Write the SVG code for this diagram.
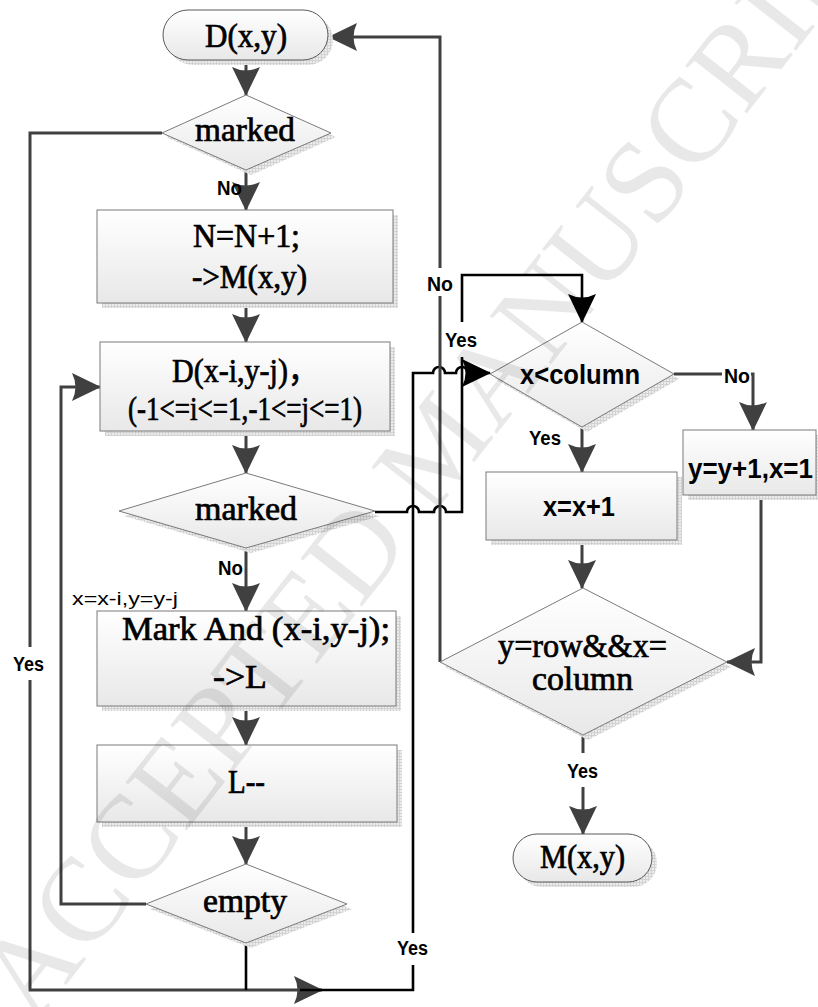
<svg xmlns="http://www.w3.org/2000/svg" width="818" height="1007" viewBox="0 0 818 1007">
  <defs>
    <linearGradient id="fillGrad" x1="0" y1="0" x2="0" y2="1">
      <stop offset="0" stop-color="#ffffff"/>
      <stop offset="1" stop-color="#e8e8e8"/>
    </linearGradient>
    <pattern id="shadowGrid" width="3" height="3" patternUnits="userSpaceOnUse">
      <rect width="3" height="3" fill="#ececec"/>
      <path d="M0,0.5 H3 M0.5,0 V3" stroke="#d2d2d2" stroke-width="1"/>
    </pattern>
    <marker id="arrowGray" viewBox="-30 -15 32 30" markerWidth="32" markerHeight="30" refX="0" refY="0" orient="auto" markerUnits="userSpaceOnUse">
      <path d="M1,0 L-28,-14 Q-21,0 -28,14 Z" fill="#404040"/>
    </marker>
    <marker id="arrowBlack" viewBox="-30 -15 32 30" markerWidth="32" markerHeight="30" refX="0" refY="0" orient="auto" markerUnits="userSpaceOnUse">
      <path d="M1,0 L-28,-14 Q-21,0 -28,14 Z" fill="#000000"/>
    </marker>
  </defs>
  <style>
    .shape { fill: url(#fillGrad); stroke: #7a7a7a; stroke-width: 1; }
    .term { fill: url(#fillGrad); stroke: #5a5a5a; stroke-width: 1; }
    .shadow { fill: url(#shadowGrid); }
    .serif { font-family: "Liberation Serif", "Noto Sans CJK SC", serif; font-size: 33px; fill: #000; stroke: #000; stroke-width: 0.7; }
    .sans { font-family: "Liberation Sans", Arial, sans-serif; font-weight: bold; font-size: 27px; fill: #000; }
    .lbl { font-family: "Liberation Sans", Arial, sans-serif; font-weight: bold; font-size: 20px; fill: #000; }
    .gray { fill: none; stroke: #404040; stroke-width: 3; }
    .black { fill: none; stroke: #000000; stroke-width: 2.6; }
    .gap { fill: #ffffff; }
    .mark { font-family: "Liberation Serif", serif; font-size: 119px; fill: #000; fill-opacity: 0.09; }
  </style>

  <rect width="818" height="1007" fill="#ffffff"/>

  <!-- connectors -->
  <g id="connectors">
    <path class="gray" d="M246,60 V95" marker-end="url(#arrowGray)"/>
    <path class="gray" d="M246,170 V210" marker-end="url(#arrowGray)"/>
    <path class="gray" d="M246,303 V342" marker-end="url(#arrowGray)"/>
    <path class="gray" d="M246,431 V473" marker-end="url(#arrowGray)"/>
    <path class="gray" d="M246,548 V611" marker-end="url(#arrowGray)"/>
    <path class="gray" d="M246,706 V745" marker-end="url(#arrowGray)"/>
    <path class="gray" d="M246,822 V864" marker-end="url(#arrowGray)"/>
    <!-- empty: not empty, back to the neighbour scan -->
    <path class="gray" d="M146,904 H61 V387 H100" marker-end="url(#arrowGray)"/>
    <!-- marked (first test): Yes, down the left side -->
    <path class="gray" d="M162,133 H30 V990 H322" marker-end="url(#arrowGray)"/>
    <!-- empty: Yes -->
    <path class="black" d="M246,943 V990"/>
    <path class="black" d="M300,990 H413 V373 H433 A6,6 0 0 1 445,373 H456 A6,6 0 0 1 468,373 H490" marker-end="url(#arrowBlack)"/>
    <!-- marked (neighbour test): Yes -->
    <path class="black" d="M375,512 H407 A6,6 0 0 1 419,512 H434 A6,6 0 0 1 446,512 H462 V275 H582 V322" marker-end="url(#arrowBlack)"/>
    <!-- y=row&&x=column: No, back to D(x,y) -->
    <path class="gray" d="M440,662 V37 H329" marker-end="url(#arrowGray)"/>
    <!-- x<column: Yes / No -->
    <path class="gray" d="M582,427 V472" marker-end="url(#arrowGray)"/>
    <path class="gray" d="M674,374 H753 V430" marker-end="url(#arrowGray)"/>
    <path class="gray" d="M582,540 V588" marker-end="url(#arrowGray)"/>
    <path class="gray" d="M761,495 V662 H727" marker-end="url(#arrowGray)"/>
    <path class="gray" d="M583,735 V834" marker-end="url(#arrowGray)"/>

    <!-- branch labels -->
    <text class="lbl" x="217" y="195" textLength="25" lengthAdjust="spacingAndGlyphs">No</text>
    <text class="lbl" x="218" y="575" textLength="25" lengthAdjust="spacingAndGlyphs">No</text>
    <text x="72" y="605" font-family="Liberation Sans, Arial, sans-serif" font-size="18" textLength="106" lengthAdjust="spacingAndGlyphs">x=x-i,y=y-j</text>
    <rect class="gap" x="12" y="647" width="34" height="33"/>
    <text class="lbl" x="13" y="671" textLength="31" lengthAdjust="spacingAndGlyphs">Yes</text>
    <rect class="gap" x="425" y="268" width="30" height="28"/>
    <text class="lbl" x="427" y="291" textLength="26" lengthAdjust="spacingAndGlyphs">No</text>
    <rect class="gap" x="444" y="322" width="34" height="35"/>
    <text class="lbl" x="445" y="347" textLength="32" lengthAdjust="spacingAndGlyphs">Yes</text>
    <text class="lbl" x="529" y="445" textLength="32" lengthAdjust="spacingAndGlyphs">Yes</text>
    <rect class="gap" x="722" y="364" width="29" height="22"/>
    <text class="lbl" x="724" y="383" textLength="26" lengthAdjust="spacingAndGlyphs">No</text>
    <rect class="gap" x="566" y="753" width="34" height="34"/>
    <text class="lbl" x="567" y="778" textLength="31" lengthAdjust="spacingAndGlyphs">Yes</text>
    <rect class="gap" x="396" y="933" width="34" height="32"/>
    <text class="lbl" x="397" y="955" textLength="31" lengthAdjust="spacingAndGlyphs">Yes</text>
  </g>

  <!-- nodes -->
  <g id="start">
    <rect class="shadow" x="168" y="15" width="165" height="50" rx="25"/>
    <rect class="term" x="163" y="10" width="165" height="50" rx="25"/>
    <text class="serif" x="205" y="47" textLength="82" lengthAdjust="spacingAndGlyphs">D(x,y)</text>
  </g>
  <g id="marked1">
    <polygon class="shadow" points="251,99 336,137 251,175 166,137"/>
    <polygon class="shape" points="246,95 331,133 246,170 162,133"/>
    <text class="serif" x="195" y="141" textLength="100" lengthAdjust="spacingAndGlyphs">marked</text>
  </g>
  <g id="count">
    <rect class="shadow" x="102" y="215" width="296" height="93"/>
    <rect class="shape" x="97" y="210" width="296" height="93"/>
    <text class="serif" x="193" y="247" textLength="107" lengthAdjust="spacingAndGlyphs">N=N+1;</text>
    <text class="serif" x="192" y="288" textLength="115" lengthAdjust="spacingAndGlyphs">-&gt;M(x,y)</text>
  </g>
  <g id="neighbour">
    <rect class="shadow" x="105" y="347" width="290" height="89"/>
    <rect class="shape" x="100" y="342" width="290" height="89"/>
    <text class="serif" x="172" y="382" textLength="146" lengthAdjust="spacingAndGlyphs">D(x-i,y-j)，</text>
    <text class="serif" x="128" y="420" font-size="29" textLength="234" lengthAdjust="spacingAndGlyphs">(-1&lt;=i&lt;=1,-1&lt;=j&lt;=1)</text>
  </g>
  <g id="marked2">
    <polygon class="shadow" points="251,478 380,516 251,553 124,516"/>
    <polygon class="shape" points="246,473 375,511 246,548 119,511"/>
    <text class="serif" x="195" y="520" textLength="102" lengthAdjust="spacingAndGlyphs">marked</text>
  </g>
  <g id="markPush">
    <rect class="shadow" x="102" y="616" width="299" height="95"/>
    <rect class="shape" x="97" y="611" width="299" height="95"/>
    <text class="serif" x="122" y="640" textLength="268" lengthAdjust="spacingAndGlyphs">Mark And (x-i,y-j);</text>
    <text class="serif" x="213" y="688" textLength="54" lengthAdjust="spacingAndGlyphs">-&gt;L</text>
  </g>
  <g id="pop">
    <rect class="shadow" x="102" y="750" width="300" height="77"/>
    <rect class="shape" x="97" y="745" width="300" height="77"/>
    <text class="serif" x="228" y="793" textLength="37" lengthAdjust="spacingAndGlyphs">L--</text>
  </g>
  <g id="empty">
    <polygon class="shadow" points="251,869 352,909 251,948 150,909"/>
    <polygon class="shape" points="246,864 347,904 246,943 146,904"/>
    <text class="serif" x="203" y="912" textLength="84" lengthAdjust="spacingAndGlyphs">empty</text>
  </g>
  <g id="colTest">
    <polygon class="shadow" points="587,327 679,379 587,432 495,379"/>
    <polygon class="shape" points="582,322 674,374 582,427 490,374"/>
    <text class="sans" x="520" y="384" textLength="120" lengthAdjust="spacingAndGlyphs">x&lt;column</text>
  </g>
  <g id="nextCol">
    <rect class="shadow" x="491" y="477" width="191" height="68"/>
    <rect class="shape" x="486" y="472" width="191" height="68"/>
    <text class="sans" x="543" y="516" textLength="72" lengthAdjust="spacingAndGlyphs">x=x+1</text>
  </g>
  <g id="nextRow">
    <rect class="shadow" x="688" y="435" width="133" height="65"/>
    <rect class="shape" x="683" y="430" width="133" height="65"/>
    <text class="sans" x="688" y="478" textLength="125" lengthAdjust="spacingAndGlyphs">y=y+1,x=1</text>
  </g>
  <g id="endTest">
    <polygon class="shadow" points="588,593 731,667 588,740 445,667"/>
    <polygon class="shape" points="583,588 727,662 583,735 440,662"/>
    <text class="serif" x="498" y="657" textLength="169" lengthAdjust="spacingAndGlyphs">y=row&amp;&amp;x=</text>
    <text class="serif" x="532" y="690" textLength="101" lengthAdjust="spacingAndGlyphs">column</text>
  </g>
  <g id="end">
    <rect class="shadow" x="518" y="839" width="139" height="48" rx="24"/>
    <rect class="term" x="513" y="834" width="139" height="48" rx="24"/>
    <text class="serif" x="540" y="868" textLength="85" lengthAdjust="spacingAndGlyphs">M(x,y)</text>
  </g>

  <!-- watermark -->
  <text class="mark" x="34" y="1026" transform="rotate(-52 34 1026)">ACCEPTED MANUSCRIPT</text>
</svg>
